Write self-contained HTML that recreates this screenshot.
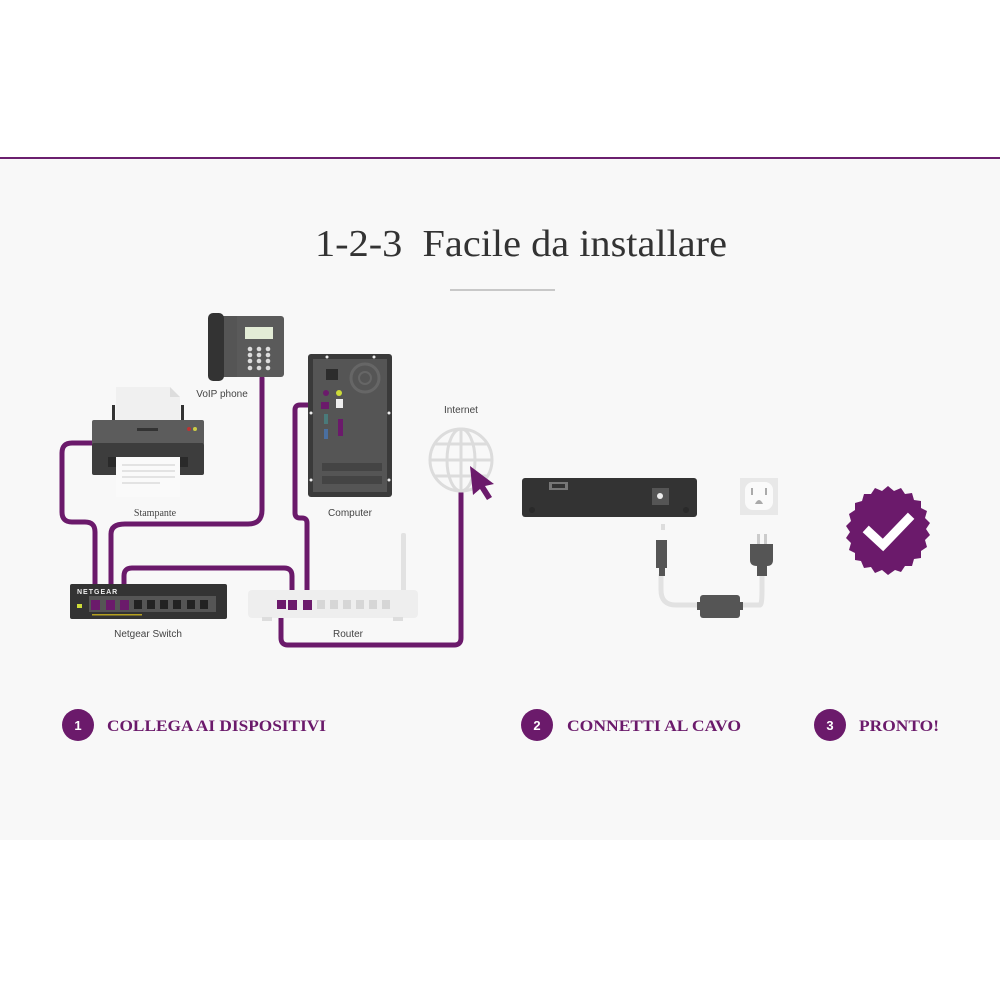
<!DOCTYPE html>
<html><head><meta charset="utf-8"><style>
html,body{margin:0;padding:0;background:#fff;}
svg{display:block;}
</style></head><body>
<svg width="1000" height="1000" viewBox="0 0 1000 1000" xmlns="http://www.w3.org/2000/svg">
<rect x="0" y="0" width="1000" height="1000" fill="#fff"/>
<rect x="0" y="159" width="1000" height="681" fill="#f8f8f8"/>
<rect x="0" y="157" width="1000" height="2" fill="#6b1f6e"/>
<text x="521" y="256" text-anchor="middle" font-family="Liberation Serif, serif" font-size="38" fill="#333" textLength="412" lengthAdjust="spacingAndGlyphs">1-2-3&#160;&#160;Facile da installare</text>
<rect x="450" y="289" width="105" height="2" fill="#c8c8c8"/>

<!-- cables -->
<g fill="none" stroke="#6b1a6b" stroke-width="5" stroke-linejoin="round" stroke-linecap="round">
<path d="M92,443 H72 Q62,443 62,453 V512 Q62,522 72,522 H85 Q95,522 95,532 V604"/>
<path d="M262,378 V510 Q262,524 248,524 H125 Q111,524 111,534 V604"/>
<path d="M124,604 V576 Q124,568 132,568 H284 Q292,568 292,576 V604"/>
<path d="M320,405 H300 Q295,405 295,410 V513 Q295,518 300,518 H302 Q307,518 307,523 V604"/>
<path d="M281,604 V638 Q281,645 288,645 H454 Q461,645 461,638 V493"/>
</g>

<!-- phone -->
<rect x="232" y="316" width="52" height="61" rx="3" fill="#5a5a5a"/>
<rect x="213" y="316" width="24" height="61" fill="#555"/>
<rect x="208" y="313" width="16" height="68" rx="5" fill="#333"/>
<rect x="245" y="327" width="28" height="12" fill="#e3ecd6"/>
<g fill="#ddd"><circle cx="250" cy="349" r="2.3"/><circle cx="259" cy="349" r="2.3"/><circle cx="268" cy="349" r="2.3"/><circle cx="250" cy="355" r="2.3"/><circle cx="259" cy="355" r="2.3"/><circle cx="268" cy="355" r="2.3"/><circle cx="250" cy="361" r="2.3"/><circle cx="259" cy="361" r="2.3"/><circle cx="268" cy="361" r="2.3"/><circle cx="250" cy="368" r="2.3"/><circle cx="259" cy="368" r="2.3"/><circle cx="268" cy="368" r="2.3"/></g>
<text x="222" y="397" text-anchor="middle" font-family="Liberation Sans, sans-serif" font-size="10" fill="#444">VoIP phone</text>

<!-- printer -->
<path d="M116,387 H170 L180,397 V425 H116 Z" fill="#f0f0f0"/>
<path d="M170,387 V397 H180 Z" fill="#ddd"/>
<rect x="112" y="405" width="3" height="20" fill="#333"/>
<rect x="181" y="405" width="3" height="20" fill="#333"/>
<rect x="92" y="420" width="112" height="25" rx="2" fill="#5c5c5c"/>
<rect x="92" y="443" width="112" height="32" rx="2" fill="#3d3d3d"/>
<rect x="137" y="428" width="21" height="3" fill="#333"/>
<circle cx="189" cy="429" r="2" fill="#b33"/><circle cx="195" cy="429" r="2" fill="#cc4"/>
<rect x="108" y="457" width="80" height="10" fill="#2a2a2a"/>
<rect x="116" y="457" width="64" height="40" fill="#fafafa"/>
<g stroke="#ccc" stroke-width="1"><line x1="122" y1="465" x2="175" y2="465"/><line x1="122" y1="471" x2="175" y2="471"/><line x1="122" y1="477" x2="175" y2="477"/><line x1="122" y1="483" x2="160" y2="483"/></g>
<text x="155" y="516" text-anchor="middle" font-family="Liberation Serif, serif" font-size="10" fill="#444">Stampante</text>

<!-- computer -->
<rect x="308" y="354" width="84" height="143" rx="3" fill="#3a3a3a"/>
<rect x="313" y="359" width="74" height="133" fill="#555"/>
<rect x="326" y="369" width="12" height="11" fill="#2c2c2c"/>
<circle cx="365" cy="378" r="14" fill="none" stroke="#666" stroke-width="3"/>
<circle cx="365" cy="378" r="6" fill="none" stroke="#666" stroke-width="2"/>
<circle cx="326" cy="393" r="3" fill="#6b1a6b"/><circle cx="339" cy="393" r="3" fill="#cddc39"/>
<rect x="336" y="399" width="7" height="9" fill="#eee"/>
<rect x="321" y="402" width="8" height="7" fill="#6b1a6b"/>
<rect x="324" y="414" width="4" height="10" fill="#4a7a7a"/>
<rect x="324" y="429" width="4" height="10" fill="#4a6fa0"/>
<rect x="338" y="419" width="5" height="17" fill="#6b1a6b"/>
<rect x="322" y="463" width="60" height="8" fill="#444"/>
<rect x="322" y="476" width="60" height="8" fill="#444"/>
<g fill="#eee"><circle cx="327" cy="357" r="1.5"/><circle cx="374" cy="357" r="1.5"/><circle cx="311" cy="413" r="1.5"/><circle cx="389" cy="413" r="1.5"/><circle cx="311" cy="480" r="1.5"/><circle cx="389" cy="480" r="1.5"/></g>
<text x="350" y="516" text-anchor="middle" font-family="Liberation Sans, sans-serif" font-size="10" fill="#444">Computer</text>

<!-- globe -->
<text x="461" y="413" text-anchor="middle" font-family="Liberation Sans, sans-serif" font-size="10" fill="#444">Internet</text>
<g fill="none" stroke="#dcdcdc" stroke-width="3">
<circle cx="461" cy="460" r="31"/>
<ellipse cx="461" cy="460" rx="14" ry="31"/>
<line x1="461" y1="429" x2="461" y2="491"/>
<line x1="430" y1="460" x2="492" y2="460"/>
<path d="M435,444 H487 M435,476 H487"/>
</g>
<path d="M470,466 L494,484 L485,486 L492,497 L487,500 L480,489 L473,495 Z" fill="#6b1a6b"/>

<!-- switch -->
<rect x="70" y="584" width="157" height="35" rx="2" fill="#333"/>
<text x="77" y="594" font-family="Liberation Sans, sans-serif" font-size="7" font-weight="bold" fill="#eee" letter-spacing="1">NETGEAR</text>
<rect x="89" y="596" width="127" height="16" fill="#555"/>
<rect x="77" y="604" width="5" height="4" fill="#cddc39"/>
<rect x="92" y="614" width="50" height="1.5" fill="#b5a020"/>
<g fill="#222"><rect x="134" y="600" width="8" height="9"/><rect x="147" y="600" width="8" height="9"/><rect x="160" y="600" width="8" height="9"/><rect x="173" y="600" width="8" height="9"/><rect x="187" y="600" width="8" height="9"/><rect x="200" y="600" width="8" height="9"/></g>
<g fill="#6b1a6b"><rect x="91" y="600" width="9" height="10"/><rect x="106" y="600" width="9" height="10"/><rect x="120" y="600" width="9" height="10"/></g>
<text x="148" y="637" text-anchor="middle" font-family="Liberation Sans, sans-serif" font-size="10" fill="#444">Netgear Switch</text>

<!-- router -->
<rect x="401" y="533" width="5" height="72" rx="2" fill="#e2e2e2"/>
<rect x="248" y="590" width="170" height="28" rx="4" fill="#eeeeee"/>
<rect x="262" y="617" width="10" height="4" fill="#ddd"/><rect x="393" y="617" width="10" height="4" fill="#ddd"/>
<g fill="#d6d6d6"><rect x="317" y="600" width="8" height="9"/><rect x="330" y="600" width="8" height="9"/><rect x="343" y="600" width="8" height="9"/><rect x="356" y="600" width="8" height="9"/><rect x="369" y="600" width="8" height="9"/><rect x="382" y="600" width="8" height="9"/></g>
<g fill="#6b1a6b"><rect x="277" y="600" width="9" height="9"/><rect x="288" y="600" width="9" height="10"/><rect x="303" y="600" width="9" height="10"/></g>
<text x="348" y="637" text-anchor="middle" font-family="Liberation Sans, sans-serif" font-size="10" fill="#444">Router</text>

<!-- step 2 device -->
<rect x="522" y="478" width="175" height="39" rx="3" fill="#333"/>
<rect x="549" y="482" width="19" height="8" fill="#777"/><rect x="552" y="484" width="13" height="4" fill="#333"/>
<rect x="652" y="488" width="17" height="17" fill="#555"/><circle cx="660" cy="496" r="3" fill="#eee"/>
<circle cx="532" cy="510" r="3" fill="#2a2a2a"/><circle cx="686" cy="510" r="3" fill="#2a2a2a"/>
<rect x="740" y="478" width="38" height="37" fill="#e8e8e8"/>
<rect x="745" y="482" width="28" height="28" rx="8" fill="#fafafa"/>
<rect x="751" y="488" width="2" height="7" fill="#aaa"/><rect x="765" y="488" width="2" height="7" fill="#aaa"/>
<path d="M755,504 Q759,496 763,504 Z" fill="#aaa"/>
<!-- cable -->
<path d="M661,574 V590 Q661,605 676,605 H760 Q762,605 762,590 V574" fill="none" stroke="#e2e2e2" stroke-width="5"/>
<rect x="661" y="524" width="4" height="6" fill="#ddd"/>
<rect x="656" y="540" width="11" height="28" fill="#555"/>
<rect x="659" y="566" width="6" height="10" fill="#555"/>
<rect x="757" y="534" width="3" height="12" fill="#ccc"/><rect x="764" y="534" width="3" height="12" fill="#ccc"/>
<path d="M750,544 H773 V560 Q773,566 767,566 V576 H757 V566 Q750,566 750,560 Z" fill="#555"/>
<rect x="697" y="602" width="46" height="8" fill="#555"/>
<rect x="700" y="595" width="40" height="23" rx="3" fill="#555"/>

<!-- badge -->
<g transform="translate(888,531)">
<polygon fill="#6b1a6b" points="0,-45 6,-40 13,-43 17,-37 24,-38 26,-31 33,-30 33,-23 39,-20 37,-13 42,-8 38,-2 42,4 37,9 39,16 33,20 33,27 26,28 24,35 17,35 13,41 7,39 0,44 -6,39 -13,42 -17,36 -24,37 -27,30 -33,29 -33,22 -39,19 -37,12 -42,7 -38,1 -42,-5 -37,-10 -39,-17 -33,-21 -33,-28 -26,-30 -24,-37 -17,-37 -13,-43 -6,-40"/>
<path d="M-19,1 L-5,14 L20,-12" fill="none" stroke="#fff" stroke-width="9" stroke-linecap="square"/>
</g>

<!-- steps -->
<g font-family="Liberation Sans, sans-serif" font-size="13" font-weight="bold" fill="#fff" text-anchor="middle">
<circle cx="78" cy="725" r="16" fill="#6b1a6b"/><text x="78" y="730">1</text>
<circle cx="537" cy="725" r="16" fill="#6b1a6b"/><text x="537" y="730">2</text>
<circle cx="830" cy="725" r="16" fill="#6b1a6b"/><text x="830" y="730">3</text>
</g>
<g font-family="Liberation Serif, serif" font-size="16" font-weight="bold" fill="#6b1a6b">
<text x="107" y="731" textLength="219" lengthAdjust="spacingAndGlyphs">COLLEGA AI DISPOSITIVI</text>
<text x="567" y="731" textLength="174" lengthAdjust="spacingAndGlyphs">CONNETTI AL CAVO</text>
<text x="859" y="731" textLength="80" lengthAdjust="spacingAndGlyphs">PRONTO!</text>
</g>
</svg>
</body></html>
